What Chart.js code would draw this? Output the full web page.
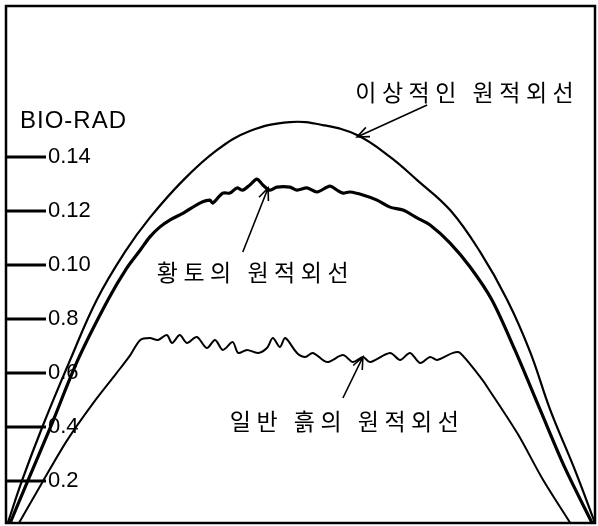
<!DOCTYPE html>
<html>
<head>
<meta charset="utf-8">
<script src="https://cdn.jsdelivr.net/npm/chart.js@4.4.1/dist/chart.umd.min.js"></script>
<style>
    body { margin: 0; background: #fff; }
    #wrap { width: 598px; height: 526px; }
</style>
</head>
<body>
<div id="wrap"><canvas id="grafico" width="598" height="526"></canvas></div>
<script>
// eje BIO-RAD: valores y etiquetas tal como aparecen en la figura
var tickVals = [0.02, 0.04, 0.06, 0.08, 0.10, 0.12, 0.14];
var tickLabels = ['0.2', '0.4', '0.6', '0.8', '0.10', '0.12', '0.14'];
var axisTitle = 'BIO-RAD';

var seriesNames = ['이상적인 원적외선', '황토의 원적외선', '일반 흙의 원적외선'];

// 이상적인 원적외선
var idealX = [0.3, 2.7, 6.1, 10.9, 15.4, 20.2, 24.4, 30.1, 35.8, 41.4, 48.2, 53.8, 59.6, 65.2, 69.8, 75.4, 80.5, 85.1, 89.0, 92.4, 96.6, 100];
var idealY = [0.0045, 0.0201, 0.0397, 0.0649, 0.0871, 0.1049, 0.1175, 0.1315, 0.1426, 0.1497, 0.1530, 0.1519, 0.1482, 0.1401, 0.1315, 0.1204, 0.1049, 0.0871, 0.0678, 0.0464, 0.0241, 0.0045];

// 황토의 원적외선
var loessX = [0.7, 3.7, 7.5, 12.2, 17.3, 20.5, 22.8, 24.4, 26.1, 27.8, 30.1, 32.9, 34.6, 35.1, 36.8, 38.0, 39.2, 40.2, 41.4, 42.6, 43.6, 44.8, 46.0, 48.2, 49.4, 51.1, 52.8, 55.0, 56.2, 57.2, 58.4, 60.6, 63.0, 65.2, 67.4, 69.8, 72.0, 75.4, 78.8, 82.5, 86.4, 90.7, 94.9, 99.5];
var loessY = [0.0045, 0.0201, 0.0397, 0.0649, 0.0871, 0.0989, 0.1056, 0.1104, 0.1141, 0.1167, 0.1193, 0.1230, 0.1241, 0.1230, 0.1267, 0.1267, 0.1286, 0.1278, 0.1297, 0.1319, 0.1297, 0.1278, 0.1289, 0.1289, 0.1278, 0.1286, 0.1271, 0.1293, 0.1278, 0.1267, 0.1271, 0.1260, 0.1241, 0.1215, 0.1204, 0.1175, 0.1149, 0.1082, 0.0993, 0.0871, 0.0686, 0.0464, 0.0249, 0.0045];

// 일반 흙의 원적외선
var soilX = [2.2, 6.3, 10.4, 14.8, 18.8, 21.1, 22.8, 24.4, 25.8, 27.3, 28.2, 29.5, 30.7, 32.4, 34.1, 35.5, 36.8, 38.5, 39.4, 40.9, 42.8, 44.3, 45.3, 46.5, 47.4, 49.4, 50.8, 52.1, 54.5, 57.2, 58.9, 60.6, 61.8, 65.2, 66.9, 68.6, 70.3, 72.0, 73.2, 75.9, 77.1, 80.5, 81.7, 86.8, 91.2, 95.8];
var soilY = [0.0045, 0.0201, 0.0352, 0.0489, 0.0601, 0.0667, 0.0723, 0.0730, 0.0723, 0.0741, 0.0712, 0.0741, 0.0712, 0.0734, 0.0693, 0.0723, 0.0686, 0.0715, 0.0675, 0.0686, 0.0675, 0.0693, 0.0730, 0.0697, 0.0730, 0.0675, 0.0660, 0.0675, 0.0641, 0.0667, 0.0641, 0.0660, 0.0641, 0.0675, 0.0649, 0.0675, 0.0638, 0.0660, 0.0649, 0.0675, 0.0675, 0.0586, 0.0549, 0.0378, 0.0204, 0.0045];

// textos con flecha: posicion del texto y flecha (en unidades de los ejes)
var notas = [
    { texto: seriesNames[0], tx: 59.3, ty: 0.1641, x1: 71.5, y1: 0.1593, x2: 59.6, y2: 0.1475 },
    { texto: seriesNames[1], tx: 25.6, ty: 0.0975, x1: 40.2, y1: 0.1049, x2: 44.5, y2: 0.1286 },
    { texto: seriesNames[2], tx: 38.0, ty: 0.0423, x1: 57.2, y1: 0.0508, x2: 60.6, y2: 0.0660 }
];

function puntos(xs, ys) {
    return xs.map(function (x, i) { return { x: x, y: ys[i] }; });
}

function flecha(ctx, x1, y1, x2, y2) {
    var ang = Math.atan2(y2 - y1, x2 - x1);
    var len = 13;
    ctx.beginPath();
    ctx.moveTo(x1, y1);
    ctx.lineTo(x2, y2);
    ctx.moveTo(x2 - len * Math.cos(ang - 0.4), y2 - len * Math.sin(ang - 0.4));
    ctx.lineTo(x2, y2);
    ctx.lineTo(x2 - len * Math.cos(ang + 0.4), y2 - len * Math.sin(ang + 0.4));
    ctx.stroke();
}

var marco = {
    id: 'marco',
    beforeDatasetsDraw: function (chart) {
        var ctx = chart.ctx, a = chart.chartArea, ys = chart.scales.y;
        ctx.save();
        ctx.strokeStyle = '#000';
        ctx.lineWidth = 2.5;
        ctx.strokeRect(a.left, a.top, a.right - a.left, a.bottom - a.top);
        // marcas del eje (hacia dentro)
        ctx.lineWidth = 3;
        tickVals.forEach(function (v) {
            var py = Math.round(ys.getPixelForValue(v));
            ctx.beginPath();
            ctx.moveTo(a.left, py);
            ctx.lineTo(a.left + 40, py);
            ctx.stroke();
        });
        ctx.fillStyle = '#000';
        ctx.font = '24px "Liberation Sans", Arial, sans-serif';
        ctx.textBaseline = 'middle';
        if ('letterSpacing' in ctx) ctx.letterSpacing = '1px';
        ctx.fillText(axisTitle, a.left + 14, ys.getPixelForValue(0.1534));
        ctx.restore();
    },
    afterDatasetsDraw: function (chart) {
        var ctx = chart.ctx, xs = chart.scales.x, ys = chart.scales.y;
        ctx.save();
        ctx.strokeStyle = '#000';
        ctx.fillStyle = '#000';
        ctx.lineWidth = 1.6;
        ctx.font = '23px "Noto Sans CJK KR", sans-serif';
        ctx.textBaseline = 'middle';
        if ('letterSpacing' in ctx) ctx.letterSpacing = '5.5px';
        notas.forEach(function (n) {
            ctx.fillText(n.texto, xs.getPixelForValue(n.tx), ys.getPixelForValue(n.ty));
            flecha(ctx, xs.getPixelForValue(n.x1), ys.getPixelForValue(n.y1),
                xs.getPixelForValue(n.x2), ys.getPixelForValue(n.y2));
        });
        ctx.restore();
    }
};

function cargarGrafico() {
    var ctx = document.getElementById('grafico').getContext('2d');
    var datos = {
        datasets: [
            { label: seriesNames[0], data: puntos(idealX, idealY), borderColor: '#000', borderWidth: 2.2, tension: 0.4 },
            { label: seriesNames[1], data: puntos(loessX, loessY), borderColor: '#000', borderWidth: 3.2, tension: 0.3 },
            { label: seriesNames[2], data: puntos(soilX, soilY), borderColor: '#000', borderWidth: 2, tension: 0.3 }
        ]
    };
    new Chart(ctx, {
        type: 'line',
        data: datos,
        options: {
            responsive: false,
            animation: false,
            layout: { padding: { left: 6, top: 6, right: 3, bottom: 3 } },
            elements: { point: { radius: 0 } },
            plugins: { legend: { display: false }, tooltip: { enabled: false } },
            scales: {
                x: { type: 'linear', min: 0, max: 100, display: false },
                y: {
                    min: 0.0045,
                    max: 0.196,
                    // la escala no ocupa sitio: etiquetas dentro del area
                    afterFit: function (s) {
                        s.width = 0;
                        s.paddingTop = 0;
                        s.paddingBottom = 0;
                    },
                    afterBuildTicks: function (s) {
                        s.ticks = tickVals.map(function (v) { return { value: v }; });
                    },
                    grid: { display: false },
                    border: { display: false },
                    ticks: {
                        mirror: true,
                        padding: 42,
                        color: '#000',
                        font: { family: '"Liberation Sans", Arial, sans-serif', size: 22 },
                        callback: function (v) { return tickLabels[tickVals.indexOf(v)]; }
                    }
                }
            }
        },
        plugins: [marco]
    });
}

cargarGrafico();
</script>
</body>
</html>
